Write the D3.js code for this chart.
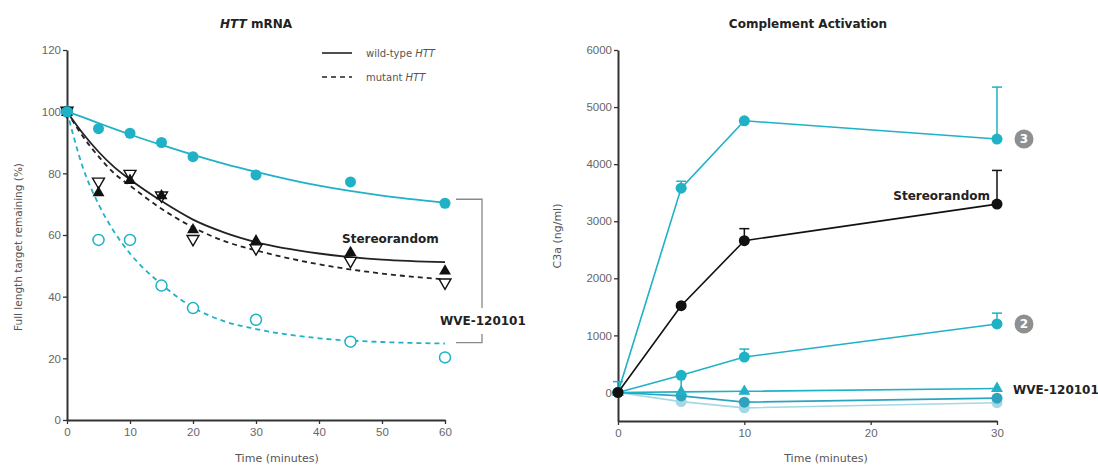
<!DOCTYPE html>
<html>
<head>
<meta charset="utf-8">
<script src="https://cdn.jsdelivr.net/npm/d3@7"></script>
<style>
  body { margin: 0; background: #fff; }
  svg { font-family: "DejaVu Sans", "Open Sans", sans-serif; }
  .axis path, .axis line { stroke: #333; }
  .axis path { stroke-width: 2; }
  .axis line { stroke-width: 1.3; }
  .axis text { fill: #666; font-size: 11.5px; }
</style>
</head>
<body>
<div id="chart"></div>
<script>
// ---- HTT mRNA (left panel) ----
const hTimes = [0, 5, 10, 15, 20, 30, 45, 60];
const wveWild = [100, 94.5, 93, 90, 85.4, 79.5, 77.2, 70.3];
const wveMutant = [100, 58.4, 58.4, 43.6, 36.3, 32.5, 25.4, 20.3];
const sterWild = [100, 74, 78, 73, 62, 58.4, 54.6, 48.6];
const sterMutant = [100, 77, 79.5, 72.5, 58.4, 55.4, 51.3, 44.3];

// fitted curves
const fitTimes = [0, 2.5, 5, 7.5, 10, 15, 20, 25, 30, 40, 50, 60];
const fitWveWild = [100, 98.2, 96.3, 94.4, 92.6, 89.2, 86, 83.1, 80.5, 76, 72.8, 70.5];
const fitWveMutant = [100, 82, 70, 61, 54, 44, 36.5, 32, 29.5, 26.5, 25.3, 24.8];
const fitSterWild = [100, 93, 87, 82, 78, 71, 65, 60.8, 57.7, 54, 52, 51.2];
const fitSterMutant = [100, 92, 85.5, 80, 76, 68.5, 62.5, 58, 55, 50.5, 47.5, 45.6];

const hYTicks = [0, 20, 40, 60, 80, 100, 120];
const hXTicks = [0, 10, 20, 30, 40, 50, 60];

// ---- Complement Activation (right panel) ----
const cTimes = [0, 5, 10, 30];
const c3aDose3 = [0, 3580, 4760, 4440];
const c3aDose3Err = [0, 120, 0, 910];
const c3aSter = [0, 1520, 2660, 3300];
const c3aSterErr = [0, 0, 210, 590];
const c3aDose2 = [0, 300, 620, 1200];
const c3aDose2Err = [190, 0, 140, 190];
const c3aWveTri = [0, 10, 20, 70];
const c3aWveTriErr = [0, 280, 0, 0];
const c3aWveMid = [0, -60, -170, -100];
const c3aWveLight = [0, -160, -270, -180];

const cYTicks = [0, 1000, 2000, 3000, 4000, 5000, 6000];
const cXTicks = [0, 10, 20, 30];

const teal = "#1fb1c6", tealMid = "#2ea3be", tealLight = "#a3d8e4", black = "#111";

const svg = d3.select("#chart").append("svg")
    .attr("width", 1098).attr("height", 466);

// ================= left panel =================
const xL = d3.scaleLinear().domain([0, 60]).range([67, 445]);
const yL = d3.scaleLinear().domain([0, 120]).range([420, 50]);

svg.append("g").attr("class", "axis")
    .attr("transform", "translate(67,0)")
    .call(d3.axisLeft(yL).tickValues(hYTicks).tickSize(4).tickSizeOuter(0).tickPadding(2));
svg.append("g").attr("class", "axis")
    .attr("transform", "translate(0,420)")
    .call(d3.axisBottom(xL).tickValues(hXTicks).tickSize(4).tickSizeOuter(0).tickPadding(4));

const fitLine = (vals) => d3.line()
    .x((d, i) => xL(fitTimes[i]))
    .y(d => yL(d))
    .curve(d3.curveMonotoneX)(vals);

function drawFit(vals, color, dashed) {
    svg.append("path")
        .attr("d", fitLine(vals))
        .attr("fill", "none")
        .attr("stroke", color)
        .attr("stroke-width", 1.8)
        .attr("stroke-dasharray", dashed ? "5,4" : null);
}
drawFit(fitWveMutant, teal, true);
drawFit(fitSterMutant, "#222", true);
drawFit(fitSterWild, "#222", false);
drawFit(fitWveWild, teal, false);

const tri = d3.symbol().type(d3.symbolTriangle).size(62);

// open circles - mutant, WVE
svg.append("g").selectAll("circle").data(wveMutant).join("circle")
    .attr("cx", (d, i) => xL(hTimes[i])).attr("cy", d => yL(d))
    .attr("r", 5.5).attr("fill", "#fff").attr("stroke", teal).attr("stroke-width", 1.5);

// open inverted triangles - mutant, stereorandom
svg.append("g").selectAll("path").data(sterMutant).join("path")
    .attr("d", tri)
    .attr("transform", (d, i) => `translate(${xL(hTimes[i])},${yL(d) - 1}) rotate(180)`)
    .attr("fill", "#fff").attr("stroke", black).attr("stroke-width", 1.4);

// filled triangles - wild type, stereorandom
svg.append("g").selectAll("path").data(sterWild).join("path")
    .attr("d", tri)
    .attr("transform", (d, i) => `translate(${xL(hTimes[i])},${yL(d) + 1})`)
    .attr("fill", black);

// filled circles - wild type, WVE
svg.append("g").selectAll("circle").data(wveWild).join("circle")
    .attr("cx", (d, i) => xL(hTimes[i])).attr("cy", d => yL(d))
    .attr("r", 5.5).attr("fill", teal);

// legend
const legend = [["wild-type ", null], ["mutant ", "5,4"]];
legend.forEach((l, i) => {
    const ly = 53 + i * 24;
    svg.append("line").attr("x1", 322).attr("x2", 352).attr("y1", ly).attr("y2", ly)
        .attr("stroke", "#222").attr("stroke-width", 1.6).attr("stroke-dasharray", l[1]);
    const t = svg.append("text").attr("x", 366).attr("y", ly).attr("dy", "0.35em")
        .attr("font-size", 10).attr("fill", "#555").text(l[0]);
    t.append("tspan").attr("font-style", "italic").text("HTT");
});

// bracket
const bx = 482;
svg.append("path")
    .attr("d", `M456,${yL(wveWild[7]) - 4}H${bx}V308 M${bx},334V${yL(fitWveMutant[11]) - 1}H456`)
    .attr("fill", "none").attr("stroke", "#888").attr("stroke-width", 1.3);

svg.append("text").attr("x", 440).attr("y", 321).attr("dy", "0.35em")
    .attr("font-size", 12).attr("font-weight", "bold").attr("fill", "#222").text("WVE-120101");
svg.append("text").attr("x", 342).attr("y", 239).attr("dy", "0.35em")
    .attr("font-size", 12).attr("font-weight", "bold").attr("fill", "#222").text("Stereorandom");

const tL = svg.append("text").attr("x", 256).attr("y", 24).attr("dy", "0.35em")
    .attr("text-anchor", "middle").attr("font-size", 12).attr("font-weight", "bold").attr("fill", "#222");
tL.append("tspan").attr("font-style", "italic").text("HTT");
tL.append("tspan").text(" mRNA");

svg.append("text").attr("transform", "translate(18,247) rotate(-90)")
    .attr("text-anchor", "middle").attr("dy", "0.35em").attr("font-size", 10.5).attr("fill", "#555")
    .text("Full length target remaining (%)");
svg.append("text").attr("x", 277).attr("y", 458).attr("dy", "0.35em")
    .attr("text-anchor", "middle").attr("font-size", 11).attr("fill", "#555").text("Time (minutes)");

// ================= right panel =================
const xR = d3.scaleLinear().domain([0, 30]).range([618, 997]);
const yR = d3.scaleLinear().domain([-500, 6000]).range([421, 50]);

svg.append("g").attr("class", "axis")
    .attr("transform", "translate(618,0)")
    .call(d3.axisLeft(yR).tickValues(cYTicks).tickFormat(d3.format("d")).tickSize(4).tickSizeOuter(0).tickPadding(2));
svg.append("g").attr("class", "axis")
    .attr("transform", "translate(0,421)")
    .call(d3.axisBottom(xR).tickValues(cXTicks).tickSize(4).tickSizeOuter(0).tickPadding(4));

const cLine = d3.line().x((d, i) => xR(cTimes[i])).y(d => yR(d));

function drawSeries(vals, errs, color, shape) {
    const g = svg.append("g");
    if (errs) {
        vals.forEach((v, i) => {
            if (!errs[i]) return;
            const x = xR(cTimes[i]), top = yR(v + errs[i]);
            g.append("line").attr("x1", x).attr("x2", x).attr("y1", yR(v)).attr("y2", top)
                .attr("stroke", color).attr("stroke-width", 1.5);
            g.append("line").attr("x1", x - 5).attr("x2", x + 5).attr("y1", top).attr("y2", top)
                .attr("stroke", color).attr("stroke-width", 1.5);
        });
    }
    g.append("path").attr("d", cLine(vals)).attr("fill", "none")
        .attr("stroke", color).attr("stroke-width", 1.6);
    if (shape === "tri") {
        g.selectAll(".m").data(vals).join("path").attr("class", "m")
            .attr("d", tri).attr("transform", (d, i) => `translate(${xR(cTimes[i])},${yR(d)})`)
            .attr("fill", color);
    } else {
        g.selectAll(".m").data(vals).join("circle").attr("class", "m")
            .attr("cx", (d, i) => xR(cTimes[i])).attr("cy", d => yR(d))
            .attr("r", 5.5).attr("fill", color);
    }
}
drawSeries(c3aWveLight, null, tealLight, "circle");
drawSeries(c3aWveMid, null, tealMid, "circle");
drawSeries(c3aWveTri, c3aWveTriErr, teal, "tri");
drawSeries(c3aDose2, c3aDose2Err, teal, "circle");
drawSeries(c3aDose3, c3aDose3Err, teal, "circle");
drawSeries(c3aSter, c3aSterErr, black, "circle");

// numbered badges
[["3", c3aDose3[3]], ["2", c3aDose2[3]]].forEach(b => {
    const cy = yR(b[1]);
    svg.append("circle").attr("cx", 1024).attr("cy", cy).attr("r", 9.5).attr("fill", "#8f8f8f");
    svg.append("text").attr("x", 1024).attr("y", cy).attr("dy", "0.36em").attr("text-anchor", "middle")
        .attr("font-size", 12).attr("font-weight", "bold").attr("fill", "#fff").text(b[0]);
});

svg.append("text").attr("x", 990).attr("y", 196).attr("dy", "0.35em").attr("text-anchor", "end")
    .attr("font-size", 12).attr("font-weight", "bold").attr("fill", "#222").text("Stereorandom");
svg.append("text").attr("x", 1013).attr("y", 390).attr("dy", "0.35em")
    .attr("font-size", 12).attr("font-weight", "bold").attr("fill", "#222").text("WVE-120101");

svg.append("text").attr("x", 808).attr("y", 24).attr("dy", "0.35em").attr("text-anchor", "middle")
    .attr("font-size", 12).attr("font-weight", "bold").attr("fill", "#222").text("Complement Activation");
svg.append("text").attr("transform", "translate(557,236) rotate(-90)")
    .attr("text-anchor", "middle").attr("dy", "0.35em").attr("font-size", 11).attr("fill", "#555")
    .text("C3a (ng/ml)");
svg.append("text").attr("x", 826).attr("y", 458).attr("dy", "0.35em")
    .attr("text-anchor", "middle").attr("font-size", 11).attr("fill", "#555").text("Time (minutes)");
</script>
</body>
</html>
